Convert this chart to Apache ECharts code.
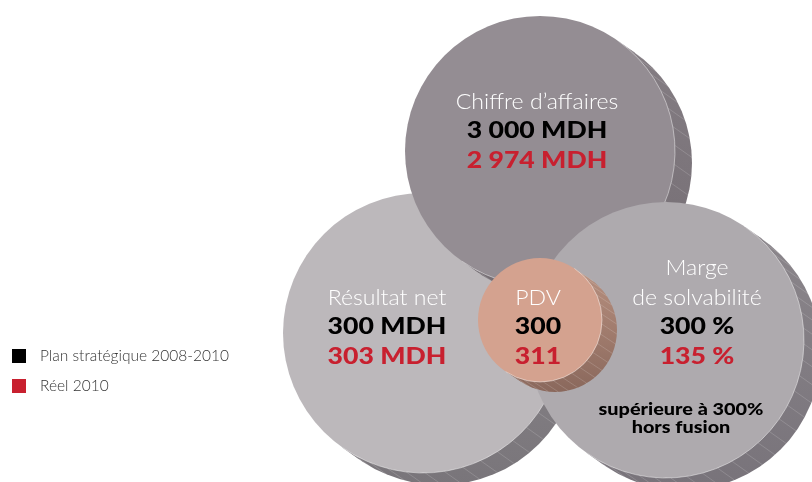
<!DOCTYPE html>
<html><head><meta charset="utf-8">
<script src="https://cdn.jsdelivr.net/npm/echarts@6/dist/echarts.min.js"></script>
<style>html,body{margin:0;padding:0;background:#fff}#c{width:812px;height:482px}</style>
</head><body><div id="c"></div>
<script>
// ---- data ----
const categories = ['Chiffre d’affaires', 'Résultat net', 'Marge\nde solvabilité', 'PDV'];
const planValues = [3000, 300, 300, 300];
const reelValues = [2974, 303, 135, 311];
const units = ['MDH', 'MDH', '%', ''];
const notes = ['', '', 'supérieure à 300%\nhors fusion', ''];
const legendLabels = ['Plan stratégique 2008-2010', 'Réel 2010'];

// ---- layout (axis units) ----
const layout = [
  {cx: 540, cy: 151, r: 135, lx: 537, ly: 102, nx: 0, ny: 0},
  {cx: 423, cy: 333, r: 140, lx: 387, ly: 298, nx: 0, ny: 0},
  {cx: 666, cy: 340, r: 138, lx: 697, ly: 298, nx: 681, ny: 410},
  {cx: 540, cy: 320, r: 62, lx: 538, ly: 298, nx: 0, ny: 0}
];
const drawOrder = [1, 0, 2, 3];
const styles = [
  {face: '#948d93', side: ['#867f85', '#746d73'], off: [17, 12], stripe: 19},
  {face: '#bcb8bb', side: ['#918d91', '#79757a'], off: [17, 12], stripe: 19},
  {face: '#aeaaae', side: ['#8d888d', '#78737a'], off: [17, 12], stripe: 16},
  {face: '#d4a28f', side: ['#bb9382', '#8a685c'], off: [15, 10], stripe: 10}
];
const FONT = 'Lato, "Open Sans", sans-serif';

function fmt(v, u) {
  const s = String(v).replace(/\B(?=(\d{3})+(?!\d))/g, ' ');
  return u ? s + ' ' + u : s;
}

function renderDisc(params, api) {
  const i = api.value(0);
  const p = api.coord([api.value(1), api.value(2)]);
  const r = api.size([api.value(3), 0])[0];
  const st = styles[i];
  const ox = st.off[0], oy = st.off[1];
  const len = Math.hypot(ox, oy);
  const nx = -oy / len, ny = ox / len;
  const grad = {type: 'linear', x: p[0], y: p[1] - r, x2: p[0], y2: p[1] + r + oy, global: true,
    colorStops: [{offset: 0, color: st.side[0]}, {offset: 1, color: st.side[1]}]};
  const ch = [];
  ch.push({type: 'polygon', shape: {points: [
    [p[0] + r * nx, p[1] + r * ny], [p[0] - r * nx, p[1] - r * ny],
    [p[0] - r * nx + ox, p[1] - r * ny + oy], [p[0] + r * nx + ox, p[1] + r * ny + oy]]},
    style: {fill: grad}});
  ch.push({type: 'circle', shape: {cx: p[0] + ox, cy: p[1] + oy, r: r}, style: {fill: grad}});
  const phi = Math.atan2(oy, ox);
  const step = st.stripe / r;
  for (let a = phi - Math.PI / 2 + step / 2; a < phi + Math.PI / 2; a += step) {
    const x1 = p[0] + r * Math.cos(a), y1 = p[1] + r * Math.sin(a);
    ch.push({type: 'line', shape: {x1: x1, y1: y1, x2: x1 + ox, y2: y1 + oy},
      style: {stroke: 'rgba(255,255,255,0.22)', lineWidth: 0.7}});
  }
  ch.push({type: 'circle', shape: {cx: p[0], cy: p[1], r: r}, style: {fill: st.face}});
  ch.push({type: 'arc', shape: {cx: p[0], cy: p[1], r: r, startAngle: phi - Math.PI / 2, endAngle: phi + Math.PI / 2},
    style: {stroke: 'rgba(255,255,255,0.45)', lineWidth: 1, fill: null}});
  return {type: 'group', children: ch};
}

function txt(t, x, y, color, size, weight, sx) {
  return {type: 'text', x: x, y: y, scaleX: sx, scaleY: 1,
    style: {text: t, x: 0, y: 0, fill: color, fontSize: size, fontWeight: weight,
      fontFamily: FONT, align: 'center', verticalAlign: 'middle'}};
}

function renderLabels(params, api) {
  const i = api.value(0);
  const L = layout[i];
  const p = api.coord([L.lx, L.ly]);
  const ch = [];
  const lines = categories[i].split('\n');
  const pitch = 29.3;
  lines.forEach(function (t, k) {
    ch.push(txt(t, p[0], p[1] - (lines.length - 1 - k) * 30, '#ffffff', 21, 300, 1.1));
  });
  ch.push(txt(fmt(planValues[i], units[i]), p[0], p[1] + pitch, '#000000', 22, 900, 1.21));
  ch.push(txt(fmt(reelValues[i], units[i]), p[0], p[1] + 2 * pitch, '#c8202f', 22, 900, 1.21));
  if (notes[i]) {
    const q = api.coord([L.nx, L.ny]);
    notes[i].split('\n').forEach(function (t, k) {
      ch.push(txt(t, q[0], q[1] + k * 17.5, '#000000', 16, 900, 1.24));
    });
  }
  return {type: 'group', children: ch};
}

const discData = drawOrder.map(function (i) { return [i, layout[i].cx, layout[i].cy, layout[i].r]; });

const chart = echarts.init(document.getElementById('c'), null, {renderer: 'canvas'});
chart.setOption({
  animation: false,
  backgroundColor: '#ffffff',
  grid: {left: 0, right: 0, top: 0, bottom: 0},
  xAxis: {type: 'value', min: 0, max: 812, show: false},
  yAxis: {type: 'value', min: 0, max: 482, inverse: true, show: false},
  legend: {
    data: legendLabels, orient: 'vertical', left: 12, top: 348, padding: 0,
    itemWidth: 14, itemHeight: 14, itemGap: 14, icon: 'rect', selectedMode: false,
    itemStyle: {opacity: 1},
    textStyle: {fontFamily: FONT, fontSize: 15.5, fontWeight: 300, color: '#333333', padding: [0, 0, 0, 9]}
  },
  series: [
    {type: 'custom', name: 'discs', renderItem: renderDisc, data: discData, encode: {x: 1, y: 2}, silent: true, z: 2},
    {type: 'custom', name: 'labels', renderItem: renderLabels, data: discData, encode: {x: 1, y: 2}, silent: true, z: 5},
    {type: 'scatter', name: legendLabels[0], data: [], itemStyle: {color: '#000000', opacity: 1}},
    {type: 'scatter', name: legendLabels[1], data: [], itemStyle: {color: '#c8202f', opacity: 1}}
  ]
});
</script></body></html>
